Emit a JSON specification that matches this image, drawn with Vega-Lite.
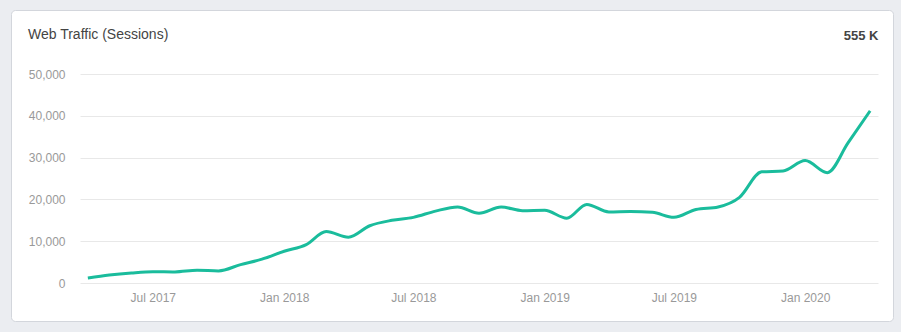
{
  "$schema": "https://vega.github.io/schema/vega-lite/v6.json",
  "width": 882,
  "height": 311,
  "autosize": {"type": "none"},
  "padding": {"left": 11, "top": 10, "right": 8, "bottom": 11},
  "background": "#ebedf1",
  "config": {
    "font": "Liberation Sans",
    "view": {"fill": "#ffffff", "stroke": "#d3d6dc", "cornerRadius": 4, "strokeWidth": 1}
  },
  "title": {
    "text": "Web Traffic (Sessions)",
    "anchor": "start",
    "frame": "group",
    "fontSize": 14,
    "fontWeight": "normal",
    "color": "#444444",
    "baseline": "alphabetic",
    "offset": 0,
    "dx": 17,
    "dy": 43
  },
  "data": {
    "values": [
      {"month": "2017-04-01", "sessions": 1200},
      {"month": "2017-05-01", "sessions": 1900},
      {"month": "2017-06-01", "sessions": 2400},
      {"month": "2017-07-01", "sessions": 2700},
      {"month": "2017-08-01", "sessions": 2650},
      {"month": "2017-09-01", "sessions": 3050},
      {"month": "2017-10-01", "sessions": 2900},
      {"month": "2017-11-01", "sessions": 4400},
      {"month": "2017-12-01", "sessions": 5700},
      {"month": "2018-01-01", "sessions": 7600},
      {"month": "2018-02-01", "sessions": 9200},
      {"month": "2018-03-01", "sessions": 12300},
      {"month": "2018-04-01", "sessions": 10950},
      {"month": "2018-05-01", "sessions": 13700},
      {"month": "2018-06-01", "sessions": 15000},
      {"month": "2018-07-01", "sessions": 15700},
      {"month": "2018-08-01", "sessions": 17200},
      {"month": "2018-09-01", "sessions": 18200},
      {"month": "2018-10-01", "sessions": 16700},
      {"month": "2018-11-01", "sessions": 18200},
      {"month": "2018-12-01", "sessions": 17300},
      {"month": "2019-01-01", "sessions": 17400},
      {"month": "2019-02-01", "sessions": 15500},
      {"month": "2019-03-01", "sessions": 18800},
      {"month": "2019-04-01", "sessions": 17000},
      {"month": "2019-05-01", "sessions": 17100},
      {"month": "2019-06-01", "sessions": 16900},
      {"month": "2019-07-01", "sessions": 15700},
      {"month": "2019-08-01", "sessions": 17600},
      {"month": "2019-09-01", "sessions": 18200},
      {"month": "2019-10-01", "sessions": 20500},
      {"month": "2019-11-01", "sessions": 26600},
      {"month": "2019-12-01", "sessions": 26800},
      {"month": "2020-01-01", "sessions": 29300},
      {"month": "2020-02-01", "sessions": 26400},
      {"month": "2020-03-01", "sessions": 33500},
      {"month": "2020-04-01", "sessions": 41200}
    ]
  },
  "mark": {"type": "line", "interpolate": "monotone", "color": "#1abc9c", "strokeWidth": 3},
  "encoding": {
    "x": {
      "field": "month",
      "type": "temporal",
      "scale": {
        "domain": [{"year": 2017, "month": 3, "date": 21}, {"year": 2020, "month": 4, "date": 12}],
        "range": [69, 867],
        "nice": false
      },
      "axis": {
        "title": "555 K",
        "titleFontSize": 13,
        "titleFontWeight": "bold",
        "titleColor": "#444444",
        "titleAlign": "right",
        "titleAnchor": null,
        "titleX": 867,
        "titleY": -243.5,
        "titleBaseline": "alphabetic",
        "offset": -38,
        "domain": false,
        "ticks": false,
        "tickSize": 0,
        "grid": false,
        "tickCount": {"interval": "month", "step": 6},
        "format": "%b %Y",
        "labelColor": "#999999",
        "labelFontSize": 12,
        "labelPadding": 9,
        "labelFont": "Liberation Sans"
      }
    },
    "y": {
      "field": "sessions",
      "type": "quantitative",
      "scale": {"domain": [0, 50000], "range": [273, 64], "nice": false, "zero": true},
      "axis": {
        "title": null,
        "offset": -54,
        "values": [0, 10000, 20000, 30000, 40000, 50000],
        "format": ",d",
        "domain": false,
        "ticks": false,
        "tickSize": 0,
        "labelPadding": 0,
        "labelColor": "#999999",
        "labelFontSize": 12,
        "labelFont": "Liberation Sans",
        "grid": true,
        "gridColor": "#e8e8e8",
        "gridWidth": 1
      }
    }
  }
}
